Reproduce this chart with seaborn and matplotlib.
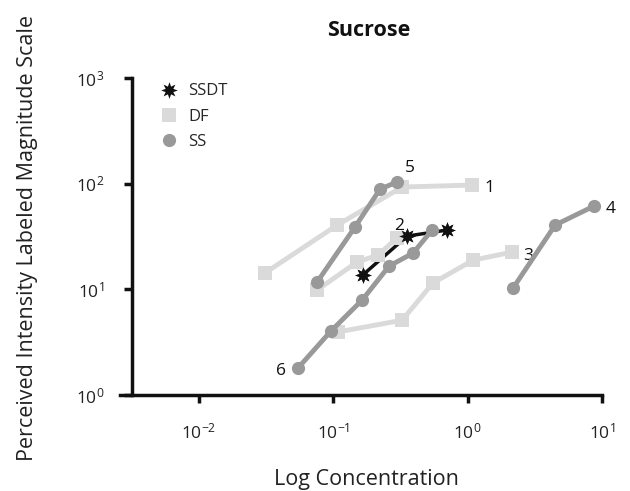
import matplotlib
matplotlib.use("Agg")
import matplotlib.pyplot as plt
from matplotlib.lines import Line2D
import seaborn as sns
import numpy as np
import pandas as pd

# ---- data ----
df1_x = [0.031, 0.107, 0.325, 1.08]
df1_y = [14.3, 40.6, 92.9, 97.0]
df2_x = [0.0757, 0.150, 0.215, 0.298]
df2_y = [9.85, 18.1, 21.1, 30.6]
df3_x = [0.108, 0.325, 0.552, 1.10, 2.14]
df3_y = [3.95, 5.1, 11.5, 18.9, 22.5]
ss4_x = [2.18, 4.48, 8.73]
ss4_y = [10.3, 40.6, 61.4]
ss5_x = [0.0757, 0.145, 0.223, 0.298]
ss5_y = [11.7, 38.9, 88.9, 103.6]
ss6_x = [0.0546, 0.096, 0.164, 0.260, 0.392, 0.543]
ss6_y = [1.80, 4.03, 7.92, 16.6, 22.0, 36.4]
ssdt_x = [0.166, 0.354, 0.703]
ssdt_y = [13.7, 31.9, 36.4]

legend_labels = ["SSDT", "DF", "SS"]
xtick_vals = [1e-2, 1e-1, 1e0, 1e1]
xtick_labels = [r"$10^{-2}$", r"$10^{-1}$", r"$10^{0}$", r"$10^{1}$"]
ytick_vals = [1e0, 1e1, 1e2, 1e3]
ytick_labels = [r"$10^{0}$", r"$10^{1}$", r"$10^{2}$", r"$10^{3}$"]

sns.set_theme(style="ticks")
plt.rcParams['font.family'] = ['Open Sans', 'DejaVu Sans']
plt.rcParams['mathtext.fontset'] = 'custom'
plt.rcParams['mathtext.rm'] = 'Open Sans'
plt.rcParams['mathtext.it'] = 'Open Sans'

DF_C = "#dadada"
SS_C = "#999999"
SSDT_C = "#111111"
STAR = (8, 1, 0)

fig = plt.figure(figsize=(6.30, 4.91), dpi=100)
ax = fig.add_axes([120/630, 1-395/491, (602-120)/630, (395-78)/491])

# SSDT first (underneath)
sns.lineplot(x=ssdt_x, y=ssdt_y, ax=ax, sort=False, color=SSDT_C, lw=2.5,
             marker=STAR, markersize=12, markeredgewidth=0, zorder=2)

df_series = [(df1_x, df1_y), (df2_x, df2_y), (df3_x, df3_y)]
for xs, ys in df_series:
    sns.lineplot(x=xs, y=ys, ax=ax, sort=False, color=DF_C, lw=3.5,
                 marker="s", markersize=10, markeredgewidth=0, zorder=3)

ss_series = [(ss4_x, ss4_y), (ss5_x, ss5_y), (ss6_x, ss6_y)]
for xs, ys in ss_series:
    sns.lineplot(x=xs, y=ys, ax=ax, sort=False, color=SS_C, lw=3.5,
                 marker="o", markersize=9.5, markeredgewidth=0, zorder=4)

# SSDT stars on top
ax.plot(ssdt_x, ssdt_y, ls="none", marker=STAR, markersize=12,
        color=SSDT_C, markeredgewidth=0, zorder=5)

# series number labels
lab_kw = dict(textcoords="offset points", fontsize=12.5, color="#111111")
ax.annotate("1", (df1_x[-1], df1_y[-1]), xytext=(9, -5), **lab_kw)
ax.annotate("2", (df2_x[-1], df2_y[-1]), xytext=(-2, 6), **lab_kw)
ax.annotate("3", (df3_x[-1], df3_y[-1]), xytext=(8, -6), **lab_kw)
ax.annotate("4", (ss4_x[-1], ss4_y[-1]), xytext=(8, -5), **lab_kw)
ax.annotate("5", (ss5_x[-1], ss5_y[-1]), xytext=(6, 7), **lab_kw)
ax.annotate("6", (ss6_x[0], ss6_y[0]), xytext=(-16, -5), **lab_kw)

ax.set_xscale("log")
ax.set_yscale("log")
ax.set_xlim(10**-2.588, 10**1)
ax.set_ylim(1, 1000)
ax.spines['left'].set_position(('data', 10**-2.5))
ax.spines['top'].set_visible(False)
ax.spines['right'].set_visible(False)
for s in ['left', 'bottom']:
    ax.spines[s].set_linewidth(2.5)
    ax.spines[s].set_color("#111111")

ax.set_xticks(xtick_vals)
ax.set_xticklabels(xtick_labels)
ax.set_yticks(ytick_vals)
ax.set_yticklabels(ytick_labels)
ax.minorticks_off()
ax.tick_params(axis='both', which='major', length=6, width=2.5, color="#111111",
               labelsize=12.5, labelcolor="#222222", direction='out')
ax.tick_params(axis='x', pad=14)
ax.tick_params(axis='y', pad=14)

ax.set_title("Sucrose", fontsize=15.5, fontweight='bold', pad=30, x=0.515,
             color="#111111")
ax.set_xlabel("Log Concentration", fontsize=15.5, color="#222222")
ax.set_ylabel("Perceived Intensity Labeled Magnitude Scale", fontsize=15.5,
              color="#222222")
ax.xaxis.set_label_coords(0.512, -0.233)
ax.yaxis.set_label_coords(-0.17, 0.495)

handles = [
    Line2D([], [], ls="none", marker=STAR, markersize=12, color=SSDT_C, markeredgewidth=0),
    Line2D([], [], ls="none", marker="s", markersize=10, color=DF_C, markeredgewidth=0),
    Line2D([], [], ls="none", marker="o", markersize=9.5, color=SS_C, markeredgewidth=0),
]
ax.legend(handles, legend_labels, loc="upper left", bbox_to_anchor=(0.035, 1.03),
          frameon=False, fontsize=12, handletextpad=0.2, labelspacing=0.55)

fig.savefig("out.png", dpi=100)
